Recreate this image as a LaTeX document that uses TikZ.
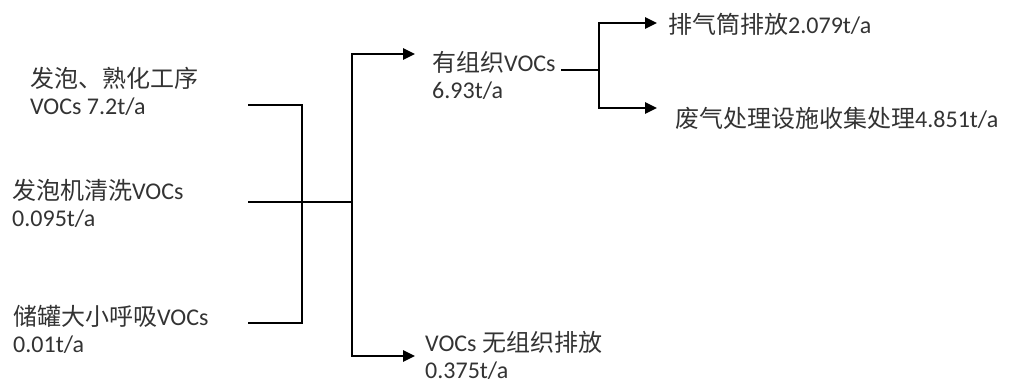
\documentclass[tikz,border=0pt]{standalone}
\usepackage{fontspec}
\setmainfont{Carlito}
\newfontfamily\cjk{Noto Sans CJK SC}
\usetikzlibrary{arrows.meta}
\newcommand{\zh}[1]{{\cjk #1}}
\begin{document}
\begin{tikzpicture}[x=1pt,y=-1pt,
  lbl/.style={anchor=west,inner sep=0pt,align=left,text=black!80,font=\fontsize{24}{27}\selectfont},
  conn/.style={line width=2.5pt,black,line join=miter},
  arrboth/.style={conn,{Triangle[length=12pt,width=11pt]}-{Triangle[length=12pt,width=11pt]}}]
\useasboundingbox (0,0) rectangle (1009,383);
% labels
\node[lbl] (src1) at (30,91) {\zh{发泡、熟化工序}\\VOCs 7.2t/a};
\node[lbl] (src2) at (12,203) {\zh{发泡机清洗}VOCs\\0.095t/a};
\node[lbl] (src3) at (13,329) {\zh{储罐大小呼吸}VOCs\\0.01t/a};
\node[lbl] (org) at (432,75) {\zh{有组织}VOCs\\6.93t/a};
\node[lbl] (fug) at (425,355) {VOCs \zh{无组织排放}\\0.375t/a};
\node[lbl] (stack) at (668,24) {\zh{排气筒排放}2.079t/a};
\node[lbl] (treat) at (675,118) {\zh{废气处理设施收集处理}4.851t/a};
% connector points
\coordinate (s1) at (248,105);
\coordinate (s2) at (248,202);
\coordinate (s3) at (248,323);
\coordinate (j1) at (302,105);
\coordinate (j2) at (302,202);
\coordinate (j3) at (302,323);
\coordinate (k) at (352,202);
\coordinate (kt) at (352,54);
\coordinate (kb) at (352,356);
\coordinate (a1) at (415,54);
\coordinate (a2) at (415,356);
\coordinate (o1) at (561,70);
\coordinate (m) at (599,70);
\coordinate (mt) at (599,23);
\coordinate (mb) at (599,108);
\coordinate (t1) at (657,23);
\coordinate (t2) at (657,108);
% connectors
\draw[conn] (s1) -- (j1) -- (j3) -- (s3);
\draw[conn] (s2) -- (k);
\draw[arrboth] (a1) -- (kt) -- (kb) -- (a2);
\draw[conn] (o1) -- (m);
\draw[arrboth] (t1) -- (mt) -- (mb) -- (t2);
\end{tikzpicture}
\end{document}
